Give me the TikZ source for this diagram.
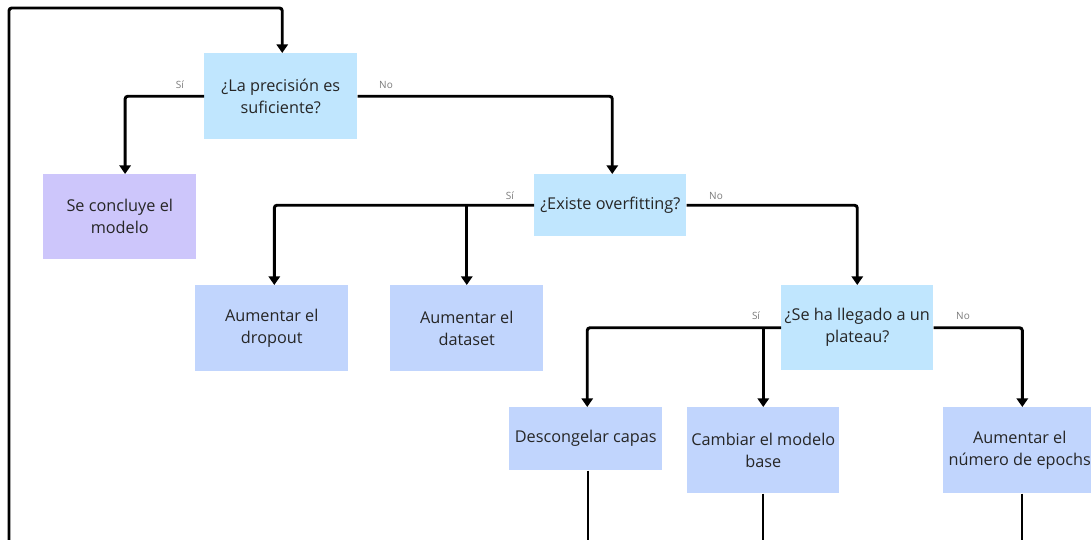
\documentclass[tikz,border=0pt]{standalone}
\usepackage{fontspec}
\setmainfont{Open Sans}
\usetikzlibrary{arrows.meta}
\definecolor{qblue}{HTML}{C0E6FE}
\definecolor{ablue}{HTML}{C1D5FD}
\definecolor{purp}{HTML}{CDC6FB}
\definecolor{txt}{HTML}{262626}
\definecolor{lbl}{HTML}{7A7A7A}
\begin{document}
\begin{tikzpicture}[x=0.75pt,y=-0.75pt,
 box/.style={anchor=north west, inner sep=0pt, align=center, font=\fontsize{12.2}{16.5}\selectfont, text=txt, minimum width=114.75pt},
 question/.style={box, fill=qblue},
 action/.style={box, fill=ablue},
 final/.style={box, fill=purp},
 link/.style={line width=2.2pt, rounded corners=2pt, -{Triangle[width=8.5pt,length=6.5pt]}},
 plain/.style={line width=2.2pt},
 answer/.style={font=\fontsize{7.5}{9}\selectfont, text=lbl},
]
\useasboundingbox (0,0) rectangle (1091,539);
\begin{scope}
\clip (0,0) rectangle (1091,539);
% nodes
\node[question, minimum height=64.5pt] (q1) at (204,53) {¿La precisión es\\suficiente?};
\node[final, minimum height=63.75pt] (conc) at (43,174) {Se concluye el\\modelo};
\node[question, minimum height=46.5pt, minimum width=114pt] (q2) at (534,174) {¿Existe overfitting?};
\node[action, minimum height=64.5pt] (drop) at (195,285) {Aumentar el\\dropout};
\node[action, minimum height=64.5pt] (data) at (390,285) {Aumentar el\\dataset};
\node[question, minimum height=63.75pt, minimum width=114pt] (q3) at (781,285) {¿Se ha llegado a un\\plateau?};
\node[action, minimum height=47.25pt] (desc) at (509,407) {Descongelar capas};
\node[action, minimum height=64.5pt, minimum width=114pt] (camb) at (687,407) {Cambiar el modelo\\base};
\node[action, minimum height=64.5pt] (epoch) at (943,407) {Aumentar el\\número de epochs};
% loop back
\coordinate (loopstart) at (9,545);
\coordinate (loopcorner) at (9,8);
\draw[link] (loopstart) -- (loopcorner) -| ([xshift=1.1pt]q1.north);
% q1 branches
\draw[link] (q1.west) -| ([xshift=4pt]conc.north);
\node[answer] (s1) at (180,85) {Sí};
\draw[link] (q1.east) -| ([xshift=1.5pt]q2.north);
\node[answer] (n1) at (386,85) {No};
% q2 branches
\draw[link] (q2.west) -| ([xshift=1.9pt]drop.north);
\draw[link] (data.north |- q2.west) -- (data.north);
\node[answer] (s2) at (510,196) {Sí};
\draw[link] (q2.east) -| (q3.north);
\node[answer] (n2) at (716,196) {No};
% q3 branches
\draw[link] (q3.west) -| ([xshift=1.1pt]desc.north);
\draw[link] (camb.north |- q3.west) -- (camb.north);
\node[answer] (s3) at (756,316) {Sí};
\draw[link] (q3.east) -| ([xshift=1.9pt]epoch.north);
\node[answer] (n3) at (963,316) {No};
% lines leaving downward
\coordinate (e1) at (588,545);
\coordinate (e2) at (763,545);
\coordinate (e3) at (1022,545);
\draw[plain] (desc.south -| e1) -- (e1);
\draw[plain] (camb.south -| e2) -- (e2);
\draw[plain] (epoch.south -| e3) -- (e3);
\end{scope}
\end{tikzpicture}
\end{document}
